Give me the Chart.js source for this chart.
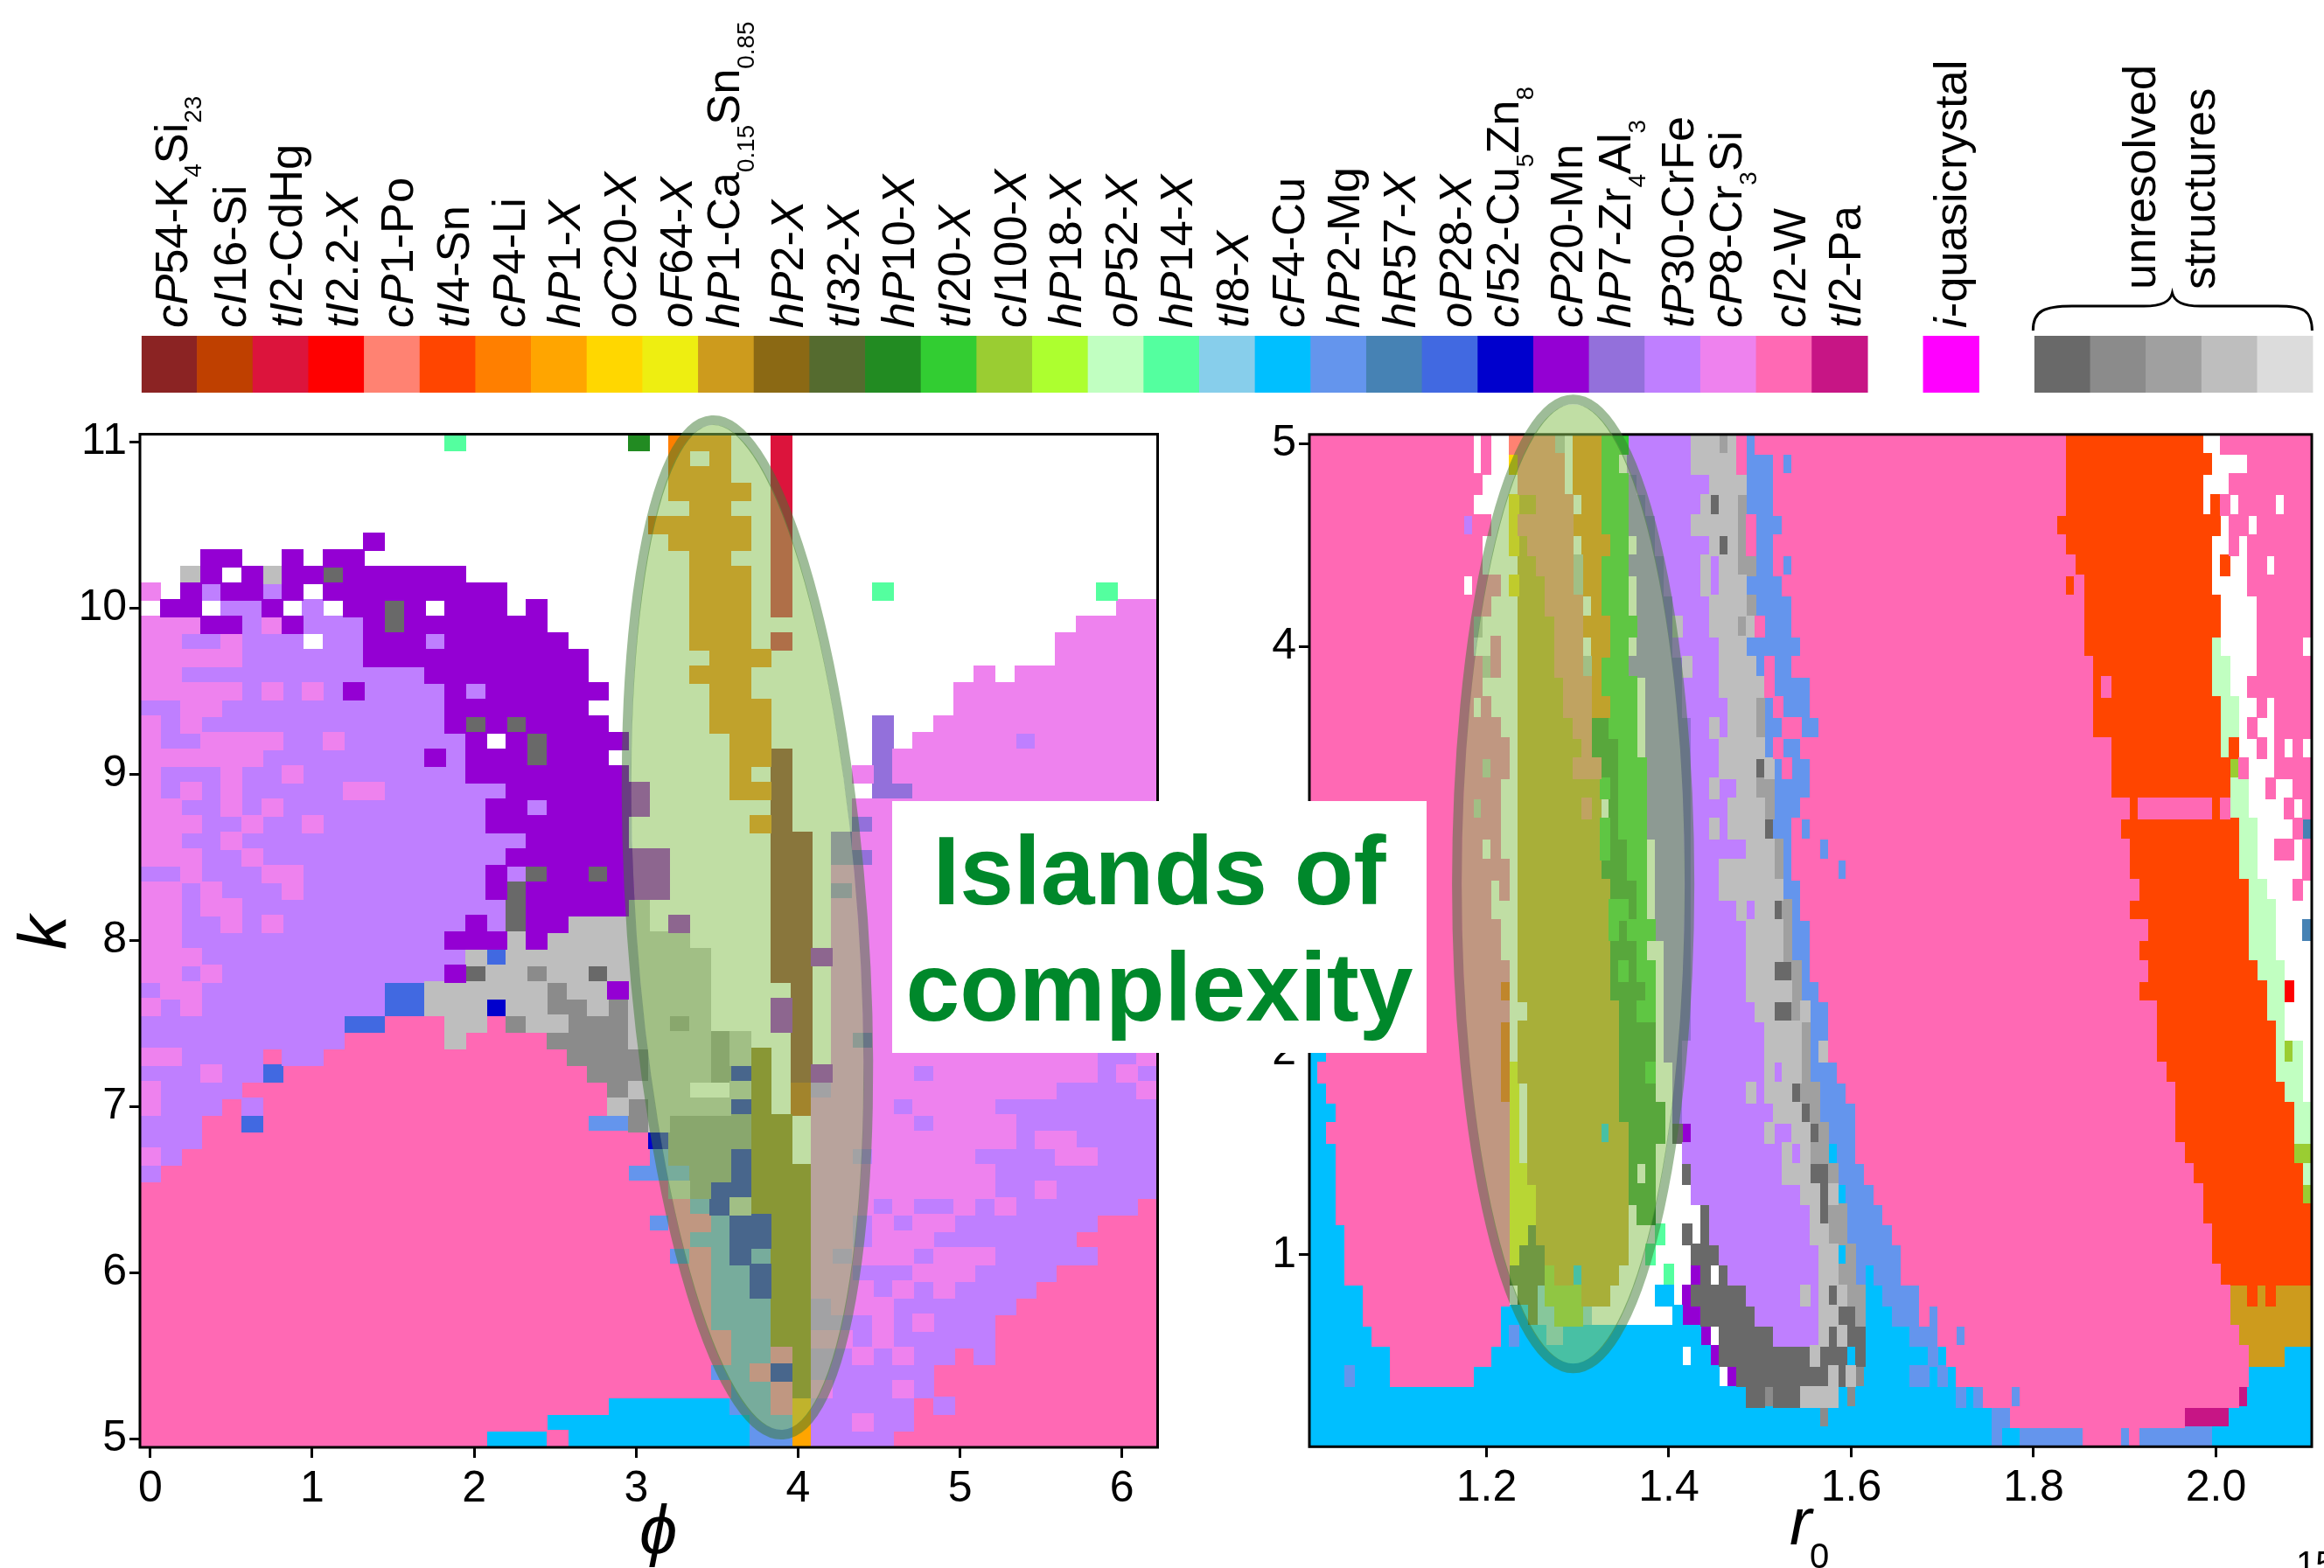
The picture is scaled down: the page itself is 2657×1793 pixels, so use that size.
<!DOCTYPE html>
<html>
<head>
<meta charset="utf-8">
<script src="https://cdn.jsdelivr.net/npm/chart.js@4"></script>
<style>
  body { margin: 0; background: #fff; }
  canvas { position: absolute; top: 0; }
  #islands {
    position: absolute; left: 1020px; top: 916px; width: 611px; height: 288px;
    box-sizing: border-box; padding-top: 14px; background: #fff; color: #00882b;
    font: bold 111px/133px "Liberation Sans"; text-align: center;
  }
</style>
</head>
<body>
<canvas id="leftChart" width="1400" height="1793" style="left:0"></canvas>
<canvas id="rightChart" width="1257" height="1793" style="left:1400px"></canvas>
<canvas id="barChart" width="2657" height="452" style="left:0"></canvas>
<div id="islands">Islands of<br>complexity</div>

<script>
// Colour bar: _ toggles italic, ~ toggles subscript
const phaseLabels = [
  "_cP_54-K~4~Si~23~", "_cI_16-Si", "_tI_2-CdHg", "_tI_2.2-_X_", "_cP_1-Po", "_tI_4-Sn", "_cP_4-Li", "_hP_1-_X_",
  "_oC_20-_X_", "_oF_64-_X_", "_hP_1-Ca~0.15~Sn~0.85~", "_hP_2-_X_", "_tI_32-_X_", "_hP_10-_X_", "_tI_20-_X_",
  "_cI_100-_X_", "_hP_18-_X_", "_oP_52-_X_", "_hP_14-_X_", "_tI_8-_X_", "_cF_4-Cu", "_hP_2-Mg", "_hR_57-_X_",
  "_oP_28-_X_", "_cI_52-Cu~5~Zn~8~", "_cP_20-Mn", "_hP_7-Zr~4~Al~3~", "_tP_30-CrFe", "_cP_8-Cr~3~Si", "_cI_2-W",
  "_tI_2-Pa", "", "_i_-quasicrystal", "", "", "", "", "", ""
];
const phaseCodes = [
  "A", "E", "r", "q", "s", "o", "v", "n", "u", "x", "C", "h", "D", "G", "g", "y", "L", "P", "Q", "K",
  "F", "B", "R", "O", "Y", "M", "Z", "T", "S", "W", "V", null, "I", null, "a", "b", "c", "d", "e"
];
const phaseColors = [
  "#8b2323", "#bf4000", "#dc143c", "#ff0000", "#ff8272", "#ff4500", "#ff7f00", "#ffa500", "#ffd700", "#eeee11",
  "#cd9b1d", "#8b6914", "#556b2f", "#228b22", "#32cd32", "#9acd32", "#adff2f", "#c1ffc1", "#54ff9f", "#87ceeb",
  "#00bfff", "#6495ed", "#4682b4", "#4169e1", "#0000cd", "#9400d3", "#9370db", "#bf7fff", "#ee82ee", "#ff69b4",
  "#c71585", null, "#ff00ff", null, "#696969", "#8b8b8b", "#a0a0a0", "#bebebe", "#dcdcdc"
];

// Phase maps, one string per row from the top. Each token: phase code + column where the run ends.
const leftRows = [
  "_15 Q16 _24 G25 _26 v29 _31 r32 _50",
  "_26 v27 _28 v29 _31 r32 _50",
  "_26 v29 _31 r32 _50",
  "_26 v30 _31 r32 _50",
  "_27 v29 _31 r32 _50",
  "_25 v30 _31 r32 _50",
  "_11 M12 _26 v30 _31 r32 _50",
  "_3 M5 _7 M8 _9 M11 _27 v29 _31 r32 _50",
  "_2 d3 M4 _5 M6 d7 M9 a10 M16 _27 v30 _31 r32 _50",
  "S1 _2 M3 T4 M6 T7 M8 _9 M18 _27 v30 _31 r32 _36 Q37 _47 Q48 _50",
  "_1 M3 _4 T6 M7 _8 T9 _10 M12 a13 M14 _15 M18 _19 M20 _27 v30 _31 r32 _48 S50",
  "S3 M5 T6 S7 M8 T11 M12 a13 M20 _27 v30 _46 S50",
  "S2 T4 S5 T8 _9 T11 M14 T15 M21 _27 v30 _31 r32 _45 S50",
  "S5 T11 M22 _28 v31 _45 S50",
  "S2 T14 M22 _27 v30 _41 S42 _43 S50",
  "S5 T6 S7 T8 S9 T10 M11 T15 M16 T17 M23 _28 v30 _40 S50",
  "T2 S4 T15 M22 _28 v31 _40 S50",
  "S1 T2 S3 T15 M16 a17 M18 a19 M23 _28 v31 _36 Z37 _39 S50",
  "S1 T3 S7 T9 S10 T16 M17 _18 M19 a20 M24 _29 v31 _36 Z37 _38 S43 T44 S50",
  "S6 T14 M15 T16 M19 a20 M23 _29 v31 A32 _36 Z37 S50",
  "S1 T4 S5 T7 S8 T16 M24 _29 v30 _31 A32 _35 S36 Z37 S50",
  "S1 T2 S3 T4 S5 T10 S12 T18 M25 _29 v31 A32 _36 Z38 S50",
  "S2 T4 S5 T6 S7 T17 M19 T20 M25 _31 A32 _35 S50",
  "S3 T5 S6 T8 S9 T17 M24 _30 v31 A32 _35 Z36 S50",
  "S2 T4 S5 T19 M24 _31 A33 _34 Z35 S50",
  "S3 T5 S6 T18 M26 _31 A33 _34 Z36 S50",
  "T2 S3 T6 S8 T17 M18 T19 a20 M22 a23 M26 _31 A33 _34 S50",
  "S2 T3 S4 T7 S8 T17 M18 a19 M26 _31 A33 _34 Z35 S50",
  "S2 T3 S5 T18 a19 M24 d25 _31 A33 _34 S50",
  "S2 T4 S5 T6 S7 T16 M17 T18 a19 M21 d25 _26 M27 _31 A33 _34 S50",
  "S2 T15 M18 d19 M20 d27 _31 A33 _34 S50",
  "S3 T16 d17 O18 d28 _31 A33 M34 S50",
  "S2 T3 S4 T15 M16 a17 d19 b20 d22 a23 d28 _31 A33 _34 S50",
  "T1 S3 T12 O14 d20 b21 d23 M24 d28 _32 A33 _34 S50",
  "S1 T2 S3 T12 O14 d17 Y18 d20 b22 d23 b24 d28 _31 M32 A33 _34 S50",
  "T10 O12 W15 d17 W18 b19 d21 b24 d26 b27 d28 _31 M32 A33 _34 S50",
  "T10 W15 d16 W20 b24 d28 b29 d30 _32 A33 _34 S35 Z36 S50",
  "S2 T6 W7 T9 W21 b25 d28 b29 d30 h31 _32 A33 _34 S47 T49 S50",
  "T3 S4 T6 O7 W22 b25 d28 b29 Y30 h31 _32 A33 M34 S38 T39 S47 T48 S49 T50",
  "S1 T5 W23 b24 d27 _29 d30 h31 _32 E33 T34 S45 T49 S50",
  "S1 T4 W5 T6 W23 d24 b25 d29 Y30 h31 _32 E33 S37 T38 S42 T50",
  "T3 W5 O6 W22 B24 b25 d26 b30 h32 _33 S38 T39 S43 T50",
  "T3 W25 Y26 b30 h32 _33 S43 T44 S46 T50",
  "S1 T2 W25 B26 b29 Y30 h32 _33 S35 T36 S41 T45 S47 T50",
  "T1 W24 B27 b29 Y30 h33 S42 T50",
  "W26 d27 b28 Y30 h33 S42 T44 S45 T50",
  "W27 B28 Y29 d30 h33 S36 T37 S38 T40 S41 T42 S43 T49 W50",
  "W25 B26 W28 B29 Y31 h33 S35 T36 S37 T38 S40 T47 W50",
  "W27 B29 Y31 h33 S35 T36 S39 T46 W50",
  "W26 B27 W28 B29 Y30 B31 h33 S34 T35 S38 T39 S42 T47 W50",
  "W28 B30 Y31 h33 S35 T38 S41 T45 W50",
  "W28 B30 Y31 h33 S36 T37 S38 T39 S40 T44 W50",
  "W28 B31 h33 T34 S37 T43 W50",
  "W28 B31 h33 T36 S37 T38 S39 T42 W50",
  "W29 B31 h33 S35 T36 S37 T42 W50",
  "W29 B31 W32 h33 T35 S36 T37 S38 T40 W41 T42 W50",
  "W28 B30 W31 Y32 h33 T39 W50",
  "W29 B31 W32 h33 S34 T37 S38 T39 W50",
  "W23 F29 B31 W32 n33 T38 W39 T40 W50",
  "W20 F30 B32 n33 T35 S36 T38 W50",
  "W17 F20 W21 F30 B32 n33 T37 W50"
];
const rightRows = [
  "W18 _19 W20 _22 s27 d28 _29 v32 g35 T42 d45 c46 d47 W48 B49 W83 o98 _100 W110",
  "W18 _19 W20 _22 u23 s28 _29 v32 g34 _35 T42 d47 W48 B51 W52 B53 W83 o99 _103 W110",
  "W19 _23 s28 _29 v32 g35 Z36 T44 d48 B51 W83 o98 _101 W110",
  "W18 _22 u23 C25 s29 _30 v32 g35 Z37 T43 d44 a45 d47 c48 B51 W83 o98 _99 o100 W101 _102 W106 _107 W110",
  "W17 T18 W20 _22 u23 s29 v32 g35 Z38 T42 d47 c48 W49 B52 W82 o100 _101 W103 _104 W110",
  "W19 _22 u23 C24 s29 _30 v33 g35 _36 Z38 T44 d45 a46 d47 c48 W49 B51 W83 o99 _101 W102 _103 W110",
  "W19 _23 C25 s29 d30 v32 g35 Z39 T43 d44 T45 d47 c49 B51 W52 B53 W84 o99 _100 o101 _103 W105 _106 W110",
  "W17 _18 W21 _22 u23 C26 s29 d30 v32 g35 _36 Z39 T43 d44 T45 d48 B52 W83 o84 W85 o99 _103 W110",
  "W20 _23 C26 s30 _31 v32 g35 _36 Z40 T44 d48 c49 B53 W85 o100 _104 W110",
  "W18 d19 _23 C27 s30 v33 g36 Z40 d41 T44 d47 c48 d49 W50 B53 W85 o100 _104 W110",
  "W18 _20 W21 _23 C27 s30 _31 v33 g35 _36 Z40 T45 d48 B54 W85 o99 P100 _104 W109 _110",
  "W19 d20 W21 _23 C27 s30 d31 v32 g35 Z41 d42 T45 d49 B50 W51 B53 W86 o99 P101 _104 W110",
  "W19 _23 C28 s31 v32 g36 _37 Z41 T45 d50 W51 B55 W86 o87 W88 o99 P101 _103 W110",
  "W18 _19 W20 _23 C28 s31 v33 g36 _37 Z41 T46 d49 c50 B51 W52 B55 W86 o100 P102 _104 W105 _106 W110",
  "W21 _23 C29 s31 G33 g36 _37 Z42 T44 d45 T46 d49 c50 B52 W54 B56 W86 o100 P102 _103 W104 _106 W110",
  "W22 _23 C30 s31 G34 g36 _37 Z42 T45 d50 B51 W52 B54 W88 o100 P101 o102 _104 W105 _106 W107 _108 W109 _110",
  "W19 d20 W22 _23 C29 s32 G34 g37 Z42 T45 d49 a50 d51 B52 W53 B55 W88 o101 y102 W103 _106 W110",
  "W21 _23 C32 g33 G34 g37 Z42 T44 d45 T47 d49 c51 B55 W88 o101 P103 _105 W106 _108 W110",
  "W18 d19 W21 _23 C30 s31 C32 _33 G34 g37 Z42 T46 d50 c51 B54 W90 o91 W99 o100 W101 P103 _107 W108 _109 W110",
  "W21 _23 C32 g33 G34 g37 Z42 T44 d45 T46 d50 a51 B53 W54 B55 W89 o102 P104 _108 W109 R110",
  "W19 _20 W21 _23 C32 g33 G35 g37 _38 Z42 T48 d51 c52 B53 W56 B57 W90 o102 P104 _106 W108 _109 W110",
  "W22 _23 C32 G35 g37 _38 Z42 T45 d51 c52 B53 W58 B59 W90 o102 P104 _109 W110",
  "W20 _21 W22 _23 C33 G36 g37 _38 Z42 T45 d52 B54 W91 o103 P105 _108 W109 _110",
  "W20 _23 C33 g35 G36 g37 _38 Z42 T47 d48 T49 d51 a52 c53 B54 W90 o103 P106 _110",
  "W21 _23 C33 g34 G35 g38 Z42 T48 d52 c53 B55 W92 o103 P106 _109 R110",
  "W21 _23 C33 G36 g37 _39 Z42 T48 d52 c53 B55 W91 o103 P106 _110",
  "W22 _23 C33 G34 g35 G36 g38 _39 Z42 T48 d51 a53 c54 B55 W92 o104 P107 _110",
  "W21 o22 _23 C33 G37 g38 _39 Z42 T48 d53 c54 B56 W91 o105 P107 q108 _110",
  "W22 _24 C34 G36 g38 _39 Z42 T49 d51 a53 c54 d55 B57 W93 o105 P107 _110",
  "W21 o22 _23 C34 G38 _39 Z42 T50 d54 c55 B57 W93 o106 P107 _110",
  "F2 W21 o22 _23 C34 G38 _39 Z41 T50 d54 c55 B56 d57 W93 o106 P107 y108 P109 _110",
  "F1 W21 o22 x23 C34 G37 g38 _40 Z41 T50 d51 T52 d54 c55 B58 W94 o106 P109 _110",
  "F2 W21 o22 x23 _24 C34 G38 _40 Z41 T48 d49 T50 d53 a54 c56 B59 W95 o107 P109 _110",
  "F3 W22 x23 _24 C34 G39 _40 Z41 T51 d54 a55 c56 B60 W95 o108 P110",
  "F2 W22 x23 _24 C32 F33 C35 G39 _40 a41 M42 T50 d51 T53 d55 a56 c57 B60 W95 o108 P110",
  "F3 W22 x23 _24 C35 G38 _41 T52 d53 T54 d55 c57 F58 B60 W96 o108 y110",
  "F3 W22 x24 C35 G36 _37 G38 _41 a42 T52 d55 a57 c58 B61 W97 o109 P110",
  "F3 W22 x25 C35 G38 _42 T54 d56 a57 d58 F59 B62 W98 o109 y110",
  "F3 W22 x25 C35 _36 G38 _43 a44 T55 d56 a57 c59 B63 W98 o110",
  "F4 W22 x24 D25 C35 _38 Q39 _41 a42 _43 a44 T55 d57 c59 B64 W99 o110",
  "F4 W22 x23 D26 C35 _37 Q38 _42 a45 T56 d58 F59 c60 B65 W99 o110",
  "F4 W22 D26 y27 C29 F30 C34 _39 Q40 _42 M43 a44 _45 a46 T56 d58 c60 B61 F62 B65 W100 o110",
  "F6 W22 _23 D25 K26 y30 C33 _38 F40 _41 M42 a48 T54 d55 T56 d57 a58 d59 c61 F63 B67 W101 C103 o104 C105 o106 C110",
  "F6 W21 F24 D25 K27 y30 K31 _40 F41 M43 a49 T56 d58 a60 c61 F64 B67 W68 B69 W101 C110",
  "F7 W21 F22 B23 F26 K28 F43 M44 _45 a51 T56 d57 a58 d59 a61 F66 B69 W71 B72 W102 C110",
  "F9 W20 F41 _42 F44 M45 a55 d56 a59 F60 a61 F68 B69 F70 W103 C107 F110",
  "F4 B5 F9 W18 F45 _46 M47 a57 d58 a59 d60 b61 F66 B68 F69 B70 F71 W103 F110",
  "F48 a50 b51 a54 d58 F59 b60 F71 B72 F73 B74 W77 B78 W102 V103 F110",
  "F56 b57 F75 B77 W96 V101 F110",
  "F75 B76 F78 B85 W89 B90 W91 B99 F110"
];

const leftXTicks = [0, 1, 2, 3, 4, 5, 6];
const leftYTicks = [5, 6, 7, 8, 9, 10, 11];
const rightXTicks = [1.2, 1.4, 1.6, 1.8, 2.0];
const rightYTicks = [1, 2, 3, 4, 5];

const phiStep = 2 * Math.PI / 50;
const r0Step = 0.01;
const kStep = 0.1;

const FONT = '"Liberation Sans"';

// One dataset per phase, from the run strings
function buildDatasets(rows, xOfCol, yOfRow, stepX, stepY) {
  const points = {};
  rows.forEach((row, r) => {
    let col = 0;
    row.split(" ").forEach(token => {
      const code = token[0];
      const end = +token.slice(1);
      for (; col < end; col++) {
        if (code === "_") continue;
        (points[code] = points[code] || []).push({ x: xOfCol(col), y: yOfRow(r) });
      }
    });
  });
  return Object.keys(points).map(code => {
    const color = phaseColors[phaseCodes.indexOf(code)];
    let cell = null;
    return {
      label: phaseLabels[phaseCodes.indexOf(code)],
      data: points[code],
      showLine: false,
      pointStyle: ctx => {
        // cell image sized from the scales, which have no size yet during the first layout pass
        const xs = ctx.chart.scales.x, ys = ctx.chart.scales.y;
        const w = Math.abs(xs.getPixelForValue(stepX) - xs.getPixelForValue(0));
        const h = Math.abs(ys.getPixelForValue(stepY) - ys.getPixelForValue(0));
        if (!(w >= 1 && h >= 1)) return "rect";
        if (!cell) {
          cell = document.createElement("canvas");
          cell.width = Math.ceil(w) + 1;
          cell.height = Math.ceil(h) + 1;
          const c = cell.getContext("2d");
          c.fillStyle = color;
          c.fillRect(0, 0, cell.width, cell.height);
        }
        return cell;
      }
    };
  });
}

function makeAxis(tickValues, min, max, size, isY, digits) {
  return {
    type: "linear",
    min: min,
    max: max,
    afterBuildTicks: axis => { axis.ticks = tickValues.map(v => ({ value: v })); },
    afterFit: axis => { if (isY) axis.width = size; else axis.height = size; },
    grid: { drawOnChartArea: false, drawTicks: true, tickLength: 12, color: "#000", lineWidth: 3 },
    border: { display: false },
    ticks: {
      autoSkip: false,
      maxRotation: 0,
      padding: isY ? 3 : 6,
      color: "#000",
      font: { family: FONT, size: 50 },
      callback: v => v.toFixed(digits)
    }
  };
}

// Text with italic and subscript parts
function drawRich(ctx, text, x, y, size, angle) {
  ctx.save();
  ctx.translate(x, y);
  ctx.rotate(angle);
  ctx.fillStyle = "#000";
  ctx.textAlign = "left";
  ctx.textBaseline = "alphabetic";
  let italic = false, sub = false, pos = 0;
  text.split(/([_~])/).forEach(part => {
    if (part === "_") { italic = !italic; return; }
    if (part === "~") { sub = !sub; return; }
    if (!part) return;
    const fs = sub ? size * 0.53 : size;
    ctx.font = (italic ? "italic " : "") + fs + "px " + FONT;
    ctx.fillText(part, pos, sub ? size * 0.32 : 0);
    pos += ctx.measureText(part).width;
  });
  ctx.restore();
}

// Frame, then the "island" ellipse on top of the cells
function islandPlugin(center, halfW, halfH, tilt) {
  return {
    id: "island",
    afterDatasetsDraw(chart) {
      const ctx = chart.ctx, a = chart.chartArea, xs = chart.scales.x, ys = chart.scales.y;
      ctx.save();
      ctx.strokeStyle = "#000";
      ctx.lineWidth = 3;
      ctx.strokeRect(a.left, a.top, a.right - a.left, a.bottom - a.top);
      const cx = xs.getPixelForValue(center[0]);
      const cy = ys.getPixelForValue(center[1]);
      const rx = xs.getPixelForValue(center[0] + halfW) - cx;
      const ry = cy - ys.getPixelForValue(center[1] + halfH);
      const lw = 11;
      ctx.beginPath();
      ctx.ellipse(cx, cy, rx - lw / 2, ry - lw / 2, tilt, 0, 2 * Math.PI);
      ctx.fillStyle = "rgba(136,192,83,0.53)";
      ctx.fill();
      ctx.beginPath();
      ctx.ellipse(cx, cy, rx, ry, tilt, 0, 2 * Math.PI);
      ctx.lineWidth = lw;
      ctx.strokeStyle = "rgba(61,121,49,0.5)";
      ctx.stroke();
      ctx.restore();
    }
  };
}

function heatmapOptions(xAxis, yAxis, pad) {
  return {
    responsive: false,
    animation: false,
    layout: { padding: pad },
    plugins: { legend: { display: false }, tooltip: { enabled: false } },
    events: [],
    scales: { x: xAxis, y: yAxis }
  };
}

// Left panel
new Chart(document.getElementById("leftChart"), {
  type: "scatter",
  data: { datasets: buildDatasets(leftRows, c => c * phiStep, r => 11 - r * kStep, phiStep, kStep) },
  options: heatmapOptions(
    makeAxis(leftXTicks, -0.0637, 6.22, 138, false, 0),
    makeAxis(leftYTicks, 4.951, 11.048, 160, true, 0),
    { top: 496.5, right: 76.5, left: 0, bottom: 0 }
  ),
  plugins: [
    islandPlugin([3.687, 8.08], 0.715, 3.06, -4.03 * Math.PI / 180),
    {
      id: "leftTitles",
      afterDraw(chart) {
        drawRich(chart.ctx, "_ϕ_", 731, 1776, 78, 0);
        drawRich(chart.ctx, "_k_", 76, 1086, 78, -Math.PI / 2);
      }
    }
  ]
});

// Right panel
new Chart(document.getElementById("rightChart"), {
  type: "scatter",
  data: { datasets: buildDatasets(rightRows, c => 1.01 + c * r0Step, r => 5 - r * kStep, r0Step, kStep) },
  options: heatmapOptions(
    makeAxis(rightXTicks, 1.00576, 2.1051, 138.7, false, 1),
    makeAxis(rightYTicks, 0.053, 5.046, 97, true, 0),
    { top: 496.8, right: 14, left: 0, bottom: 0 }
  ),
  plugins: [
    islandPlugin([1.2951, 2.829], 0.1276, 2.39, 0),
    {
      id: "rightTitles",
      afterDraw(chart) {
        const ctx = chart.ctx;
        drawRich(ctx, "_r_", 646, 1766, 76, 0);
        ctx.font = "40px " + FONT;
        ctx.fillStyle = "#000";
        ctx.fillText("0", 669, 1793);
        ctx.fillText("15", 1225, 1802);
      }
    }
  ]
});

// Colour bar with rotated labels and the brace
new Chart(document.getElementById("barChart"), {
  type: "bar",
  data: {
    labels: phaseLabels,
    datasets: [{
      data: phaseCodes.map(c => (c ? 1 : null)),
      backgroundColor: phaseColors,
      barPercentage: 1,
      categoryPercentage: 1
    }]
  },
  options: {
    responsive: false,
    animation: false,
    events: [],
    layout: { padding: { left: 161.8, right: 12.5, top: 384, bottom: 3 } },
    plugins: { legend: { display: false }, tooltip: { enabled: false } },
    scales: {
      x: { display: false },
      y: { display: false, min: 0, max: 1 }
    }
  },
  plugins: [{
    id: "barLabels",
    afterDraw(chart) {
      const ctx = chart.ctx, xs = chart.scales.x;
      phaseLabels.forEach((label, i) => {
        if (!label) return;
        // labels with subscripts sit further left, so the whole line stays over its cell
        let shift = label.includes("~") ? 15 : 24;
        if (i === 0) shift = 20;
        if (label.startsWith("_i_")) shift = 17;
        drawRich(ctx, label, xs.getPixelForValue(i) + shift, 375, 52.5, -Math.PI / 2);
      });
      drawRich(ctx, "unresolved", 2464, 331, 52.5, -Math.PI / 2);
      drawRich(ctx, "structures", 2532, 331, 52.5, -Math.PI / 2);
      ctx.save();
      ctx.strokeStyle = "#000";
      ctx.lineWidth = 3;
      ctx.beginPath();
      ctx.moveTo(2324.4, 378);
      ctx.bezierCurveTo(2324, 355, 2338, 350, 2369, 350);
      ctx.lineTo(2451, 350);
      ctx.bezierCurveTo(2472, 350, 2481, 345, 2483.5, 335);
      ctx.bezierCurveTo(2486, 345, 2495, 350, 2516, 350);
      ctx.lineTo(2604, 350);
      ctx.bezierCurveTo(2634, 350, 2643, 355, 2643.4, 378);
      ctx.stroke();
      ctx.restore();
    }
  }]
});
</script>
</body>
</html>
